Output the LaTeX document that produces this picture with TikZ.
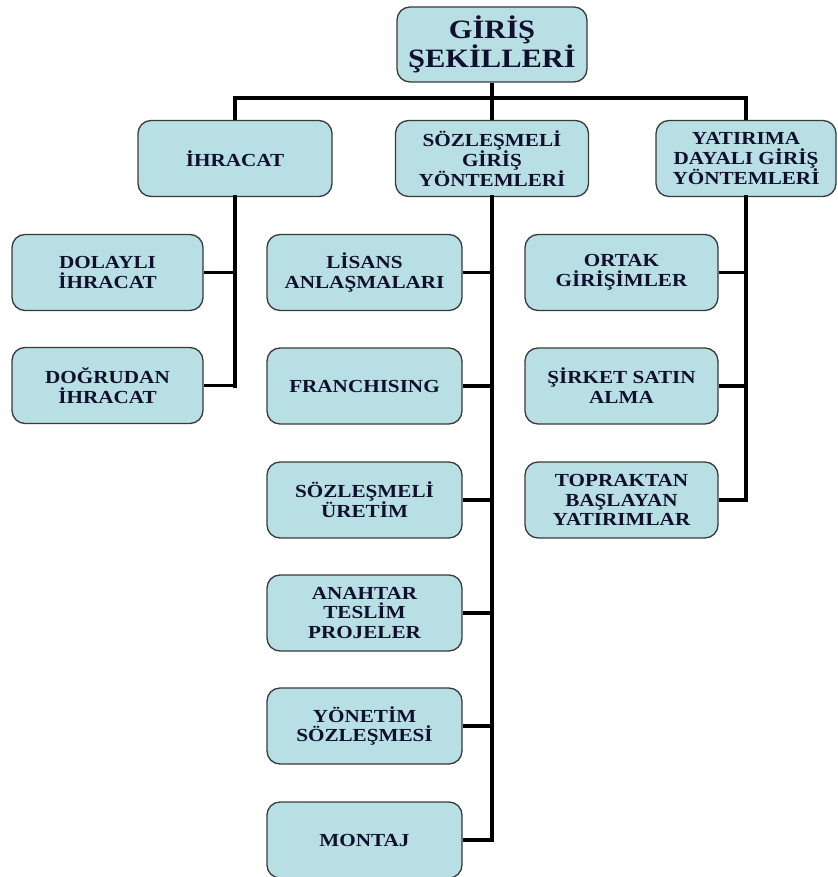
\documentclass[tikz,border=0pt]{standalone}
\usepackage{fontspec}
\setmainfont{Liberation Serif}[FakeStretch=1.15]
\definecolor{boxfill}{HTML}{B8DFE3}
\definecolor{boxline}{HTML}{3A3A3A}
\definecolor{txt}{HTML}{10102E}
\tikzset{
  box/.style={draw=boxline, line width=1.3pt, fill=boxfill, rounded corners=13pt,
    align=center, text=txt, font=\bfseries\fontsize{18.4}{19.8}\selectfont,
    inner sep=0pt, minimum height=76pt},
  trunk/.style={line width=4pt, black, line cap=rect},
  wire/.style={line width=3.2pt, black},
}
\begin{document}
\begin{tikzpicture}[x=1pt,y=-1pt]
\useasboundingbox (0,0) rectangle (837,877);
% root
\node[box, minimum width=190pt, minimum height=75pt,
      font=\bfseries\fontsize{26.5}{29}\selectfont] (root) at (492,44.5) {GİRİŞ\\ŞEKİLLERİ};
% level 2
\node[box, minimum width=194pt] (ihr) at (235,158.5) {İHRACAT};
\node[box, minimum width=193pt] (soz) at (492,158.5) {SÖZLEŞMELİ\\GİRİŞ\\YÖNTEMLERİ};
\node[box, minimum width=180pt] (yat) at (746,158.5) {YATIRIMA\\DAYALI GİRİŞ\\YÖNTEMLERİ};
% left column
\node[box, minimum width=191pt] (dol) at (107.5,272.5) {DOLAYLI\\İHRACAT};
\node[box, minimum width=191pt] (dog) at (107.5,385.5) {DOĞRUDAN\\İHRACAT};
% middle column
\node[box, minimum width=195pt] (lis) at (364.5,272.5) {LİSANS\\ANLAŞMALARI};
\node[box, minimum width=195pt] (fra) at (364.5,386) {FRANCHISING};
\node[box, minimum width=195pt] (sur) at (364.5,500) {SÖZLEŞMELİ\\ÜRETİM};
\node[box, minimum width=195pt] (ana) at (364.5,613) {ANAHTAR\\TESLİM\\PROJELER};
\node[box, minimum width=195pt] (yon) at (364.5,726) {YÖNETİM\\SÖZLEŞMESİ};
\node[box, minimum width=195pt] (mon) at (364.5,840) {MONTAJ};
% right column
\node[box, minimum width=193pt] (ort) at (621.5,272.5) {ORTAK\\GİRİŞİMLER};
\node[box, minimum width=193pt] (sir) at (621.5,386) {ŞİRKET SATIN\\ALMA};
\node[box, minimum width=193pt] (top) at (621.5,500) {TOPRAKTAN\\BAŞLAYAN\\YATIRIMLAR};
% connectors
\coordinate (bar) at (0,98);
\draw[trunk, line cap=butt] (root.south) -- (root.south |- bar);
\draw[wire, line width=3.6pt] (ihr.north) -- (ihr.north |- bar) -- (yat.north |- bar) -- (yat.north);
\draw[trunk, line cap=butt] (soz.north |- bar) -- (soz.north);
% left branch
\draw[trunk] (ihr.south) -- (ihr.south |- dog.east);
\foreach \n in {dol,dog}
  \draw[wire] (\n.east) -- (\n.east -| ihr.south);
% middle branch
\draw[trunk] (soz.south) -- (soz.south |- mon.east);
\foreach \n in {lis,fra,sur,ana,yon,mon}
  \draw[wire] (\n.east) -- (\n.east -| soz.south);
% right branch
\draw[trunk] (yat.south) -- (yat.south |- top.east);
\foreach \n in {ort,sir,top}
  \draw[wire] (\n.east) -- (\n.east -| yat.south);
\end{tikzpicture}
\end{document}
